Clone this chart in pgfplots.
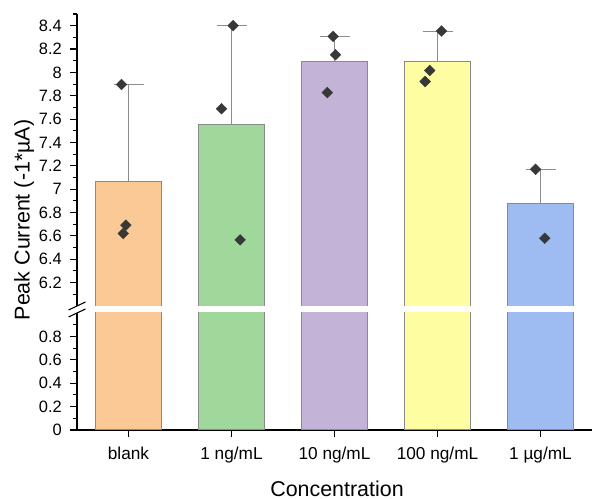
\documentclass[border=0pt]{standalone}
\usepackage{fontspec}
\setmainfont{Liberation Sans}
\usepackage{pgfplots}
\pgfplotsset{compat=1.18}
\definecolor{cA}{HTML}{FBC995}
\definecolor{cB}{HTML}{A0D89C}
\definecolor{cC}{HTML}{C3B3D6}
\definecolor{cD}{HTML}{FFFDA1}
\definecolor{cE}{HTML}{9EBCF1}
\definecolor{barline}{HTML}{8A8A8A}
\definecolor{errc}{HTML}{8C8C8C}
\definecolor{mk}{HTML}{383838}
\begin{document}
\fontsize{16.5}{19}\selectfont
\begin{tikzpicture}
\useasboundingbox (0,0) rectangle (592bp,499bp);
\pgfplotsset{
  brk/.style={
    scale only axis, width=515bp, xmin=-0.5, xmax=4.5,
    axis y line*=left,
    tick align=outside,
    major tick length=7bp, minor tick length=4bp,
    axis line style={line width=1.1bp, black},
    tick style={black, line width=1.1bp},
    /pgf/number format/assume math mode=true,
    yticklabel style={font=\fontsize{16.5}{19}\selectfont, /pgf/number format/fixed, xshift=-2.5bp},
    xticklabel style={font=\fontsize{17.3}{19}\selectfont, yshift=-4bp},
  },
  bar/.style={draw=barline, line width=1bp, mark=none, line join=miter},
}
% bars as closed rectangles: (x-0.32,0) (x-0.32,v) (x+0.32,v) (x+0.32,0)
\newcommand{\drawbars}{%
\addplot[bar, fill=cA] coordinates {(-0.32,0) (-0.32,7.069) (0.32,7.069) (0.32,0)} -- cycle;
\addplot[bar, fill=cB] coordinates {(0.68,0) (0.68,7.551) (1.32,7.551) (1.32,0)} -- cycle;
\addplot[bar, fill=cC] coordinates {(1.68,0) (1.68,8.095) (2.32,8.095) (2.32,0)} -- cycle;
\addplot[bar, fill=cD] coordinates {(2.68,0) (2.68,8.097) (3.32,8.097) (3.32,0)} -- cycle;
\addplot[bar, fill=cE] coordinates {(3.68,0) (3.68,6.875) (4.32,6.875) (4.32,0)} -- cycle;
}
% lower segment
\begin{axis}[brk, name=lower, at={(77bp,69bp)}, anchor=south west,
  height=117bp, ymin=0, ymax=1,
  axis x line*=bottom,
  xtick={0,1,2,3,4},
  xticklabels={blank,1 ng/mL,10 ng/mL,100 ng/mL,1 µg/mL},
  ytick={0,0.2,0.4,0.6,0.8},
  minor ytick={0.1,0.3,0.5,0.7,0.9}]
\drawbars
\end{axis}
% upper segment
\begin{axis}[brk, name=upper, at={(77bp,193bp)}, anchor=south west,
  height=292bp, ymin=6, ymax=8.5,
  axis x line=none,
  ytick={6.2,6.4,6.6,6.8,7,7.2,7.4,7.6,7.8,8,8.2,8.4},
  minor ytick={6.1,6.3,6.5,6.7,6.9,7.1,7.3,7.5,7.7,7.9,8.1,8.3,8.5}]
\drawbars
\addplot[draw=none, mark=none,
  error bars/.cd, y dir=plus, y explicit, error mark=|,
  error bar style={errc, line width=1bp},
  error mark options={errc, mark size=15bp, line width=1bp}]
  coordinates {
  (0,7.069) +- (0,0.827)
  (1,7.551) +- (0,0.849)
  (2,8.095) +- (0,0.213)
  (3,8.097) +- (0,0.257)
  (4,6.875) +- (0,0.295)
  };
\addplot[only marks, mark=square*, mark size=3.8bp, color=mk,
  mark options={rotate=45, fill=mk, draw=mk}]
  coordinates {
  (-0.068,7.896) (-0.026,6.692) (-0.051,6.620)
  (1.016,8.400) (0.903,7.688) (1.084,6.566)
  (1.987,8.308) (2.010,8.151) (1.930,7.827)
  (3.039,8.354) (2.925,8.016) (2.880,7.922)
  (3.952,7.170) (4.042,6.580)
  };
\end{axis}
\draw[line width=1.1bp] ([shift={(-8.5bp,-4bp)}]upper.south west) -- ([shift={(8.5bp,4bp)}]upper.south west);
\draw[line width=1.1bp] ([shift={(-8.5bp,-4bp)}]lower.north west) -- ([shift={(8.5bp,4bp)}]lower.north west);
\node[rotate=90, anchor=base, font=\fontsize{21.5}{24}\selectfont] at (29.5bp,279bp) {Peak Current (-1*µA)};
\node[anchor=base, font=\fontsize{21.5}{24}\selectfont] at (337bp,3bp) {Concentration};
\end{tikzpicture}
\end{document}
